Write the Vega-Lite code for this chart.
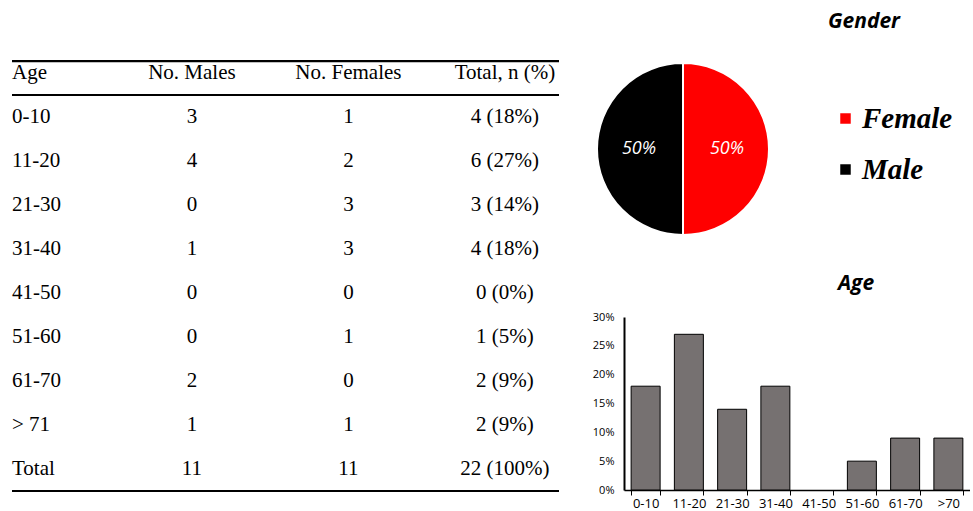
{
  "$schema": "https://vega.github.io/schema/vega-lite/v6.json",
  "padding": {"left": 10, "top": 11, "right": 0, "bottom": 0},
  "background": "white",
  "config": {"view": {"stroke": null}},
  "datasets": {
    "table": [
      {"Age": "Age", "Males": "No. Males", "Females": "No. Females", "Total": "Total, n (%)"},
      {"Age": "0-10", "Males": "3", "Females": "1", "Total": "4 (18%)"},
      {"Age": "11-20", "Males": "4", "Females": "2", "Total": "6 (27%)"},
      {"Age": "21-30", "Males": "0", "Females": "3", "Total": "3 (14%)"},
      {"Age": "31-40", "Males": "1", "Females": "3", "Total": "4 (18%)"},
      {"Age": "41-50", "Males": "0", "Females": "0", "Total": "0 (0%)"},
      {"Age": "51-60", "Males": "0", "Females": "1", "Total": "1 (5%)"},
      {"Age": "61-70", "Males": "2", "Females": "0", "Total": "2 (9%)"},
      {"Age": "> 71", "Males": "1", "Females": "1", "Total": "2  (9%)"},
      {"Age": "Total", "Males": "11", "Females": "11", "Total": "22 (100%)"}
    ],
    "gender": [
      {"gender": "Female", "pct": 0.5},
      {"gender": "Male", "pct": 0.5}
    ],
    "ages": [
      {"age": "0-10", "pct": 0.18},
      {"age": "11-20", "pct": 0.27},
      {"age": "21-30", "pct": 0.14},
      {"age": "31-40", "pct": 0.18},
      {"age": "41-50", "pct": 0},
      {"age": "51-60", "pct": 0.05},
      {"age": "61-70", "pct": 0.09},
      {"age": ">70", "pct": 0.09}
    ]
  },
  "spacing": 28,
  "resolve": {"scale": {"color": "independent"}, "legend": {"color": "independent"}},
  "hconcat": [
    {
      "width": 547,
      "height": 440,
      "data": {"name": "table"},
      "resolve": {"scale": {"x": "independent"}},
      "encoding": {
        "y": {
          "field": "Age",
          "type": "nominal",
          "bandPosition": 0.5,
          "scale": {
            "type": "band",
            "domain": ["Age", "0-10", "11-20", "21-30", "31-40", "41-50", "51-60", "61-70", "> 71", "Total"],
            "paddingInner": 0,
            "paddingOuter": 0
          },
          "axis": null
        }
      },
      "layer": [
        {
          "mark": {"type": "text", "align": "left", "dx": 0, "font": "Liberation Serif", "fontSize": 21, "color": "black"},
          "encoding": {
            "x": {
              "datum": "Age",
              "type": "nominal",
              "scale": {"type": "point", "domain": ["Age"], "padding": 0, "align": 0},
              "axis": null
            },
            "text": {"field": "Age"}
          }
        },
        {
          "transform": [{"fold": ["Males", "Females", "Total"], "as": ["col", "val"]}],
          "mark": {"type": "text", "align": "center", "font": "Liberation Serif", "fontSize": 21, "color": "black"},
          "encoding": {
            "x": {
              "field": "col",
              "type": "nominal",
              "scale": {"type": "point", "domain": ["Males", "Females", "Total"], "padding": 0.7476, "align": 0.769},
              "axis": null
            },
            "text": {"field": "val"}
          }
        },
        {
          "transform": [{"filter": "datum.Age === 'Age'"}],
          "mark": {"type": "rule", "color": "black", "strokeWidth": 2.2},
          "encoding": {"y": {"field": "Age", "type": "nominal", "bandPosition": 0.23}}
        },
        {
          "transform": [{"filter": "datum.Age === 'Age'"}],
          "mark": {"type": "rule", "color": "black", "strokeWidth": 2.2},
          "encoding": {"y": {"field": "Age", "type": "nominal", "bandPosition": 1}}
        },
        {
          "transform": [{"filter": "datum.Age === 'Total'"}],
          "mark": {"type": "rule", "color": "black", "strokeWidth": 2.2},
          "encoding": {"y": {"field": "Age", "type": "nominal", "bandPosition": 1}}
        }
      ]
    },
    {
      "spacing": 26,
      "resolve": {"scale": {"color": "independent"}, "legend": {"color": "independent"}},
      "vconcat": [
        {
          "width": 118,
          "height": 196,
          "title": {"text": "Gender", "font": "Open Sans", "fontSize": 21, "fontStyle": "italic", "fontWeight": "bold", "anchor": "middle", "dx": 181, "offset": 19, "color": "black"},
          "data": {"name": "gender"},
          "encoding": {
            "theta": {"field": "pct", "type": "quantitative", "stack": true},
            "color": {
              "field": "gender",
              "type": "nominal",
              "scale": {"domain": ["Female", "Male"], "range": ["#FF0000", "#000000"]},
              "legend": {
                "orient": "none",
                "legendX": 207,
                "legendY": 53,
                "title": null,
                "symbolType": "square",
                "symbolSize": 110,
                "symbolStrokeWidth": 0,
                "labelFont": "Liberation Serif",
                "labelFontSize": 29,
                "labelFontStyle": "italic",
                "labelFontWeight": "bold",
                "labelColor": "black",
                "labelOffset": 2,
                "rowPadding": 21,
                "padding": 0
              }
            }
          },
          "layer": [
            {"mark": {"type": "arc", "outerRadius": 86, "stroke": "white", "strokeWidth": 2}},
            {
              "mark": {"type": "text", "radius": 44, "font": "Open Sans", "fontSize": 18, "fontStyle": "italic"},
              "encoding": {
                "text": {"field": "pct", "type": "quantitative", "format": ".0%"},
                "color": {"value": "white"},
                "detail": {"field": "gender"}
              }
            }
          ]
        },
        {
          "width": 346,
          "height": 173,
          "title": {"text": "Age", "font": "Open Sans", "fontSize": 21, "fontStyle": "italic", "fontWeight": "bold", "anchor": "middle", "dx": 59, "offset": 17, "color": "black"},
          "data": {"name": "ages"},
          "mark": {"type": "bar", "fill": "#767171", "stroke": "black", "strokeWidth": 1},
          "encoding": {
            "x": {
              "field": "age",
              "type": "nominal",
              "sort": null,
              "scale": {"paddingInner": 0.33, "paddingOuter": 0.165},
              "axis": {
                "title": null,
                "labelAngle": 0,
                "domainColor": "black",
                "domainWidth": 1.5,
                "tickColor": "black",
                "tickBand": "extent",
                "tickSize": 5,
                "labelFont": "Open Sans",
                "labelFontSize": 13,
                "labelColor": "black",
                "labelPadding": 2
              }
            },
            "y": {
              "field": "pct",
              "type": "quantitative",
              "scale": {"domain": [0, 0.3]},
              "axis": {
                "title": null,
                "format": ".0%",
                "values": [0, 0.05, 0.1, 0.15, 0.2, 0.25, 0.3],
                "grid": false,
                "ticks": false,
                "domainColor": "black",
                "domainWidth": 2,
                "labelFont": "Open Sans",
                "labelFontSize": 11,
                "labelColor": "black",
                "labelPadding": 10,
                "minExtent": 35,
                "maxExtent": 35
              }
            },
            "strokeOpacity": {"condition": {"test": "datum.pct === 0", "value": 0}, "value": 1}
          }
        }
      ]
    }
  ]
}
